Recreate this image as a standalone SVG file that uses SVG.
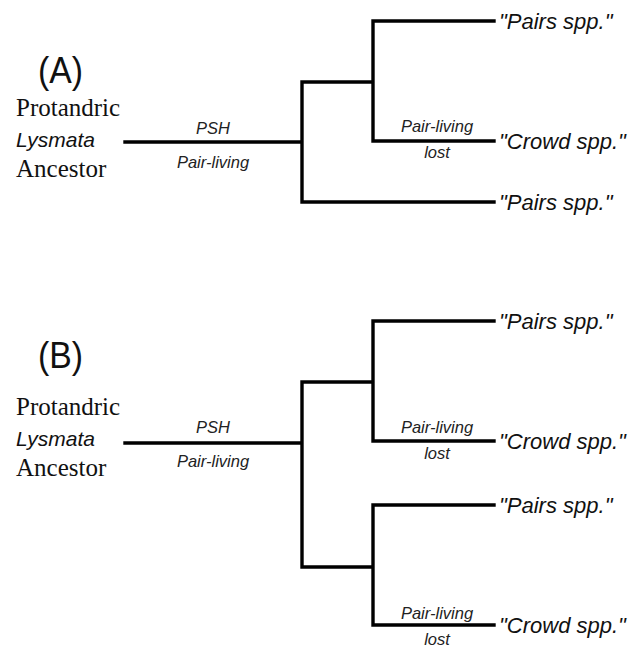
<svg xmlns="http://www.w3.org/2000/svg" width="632" height="649" viewBox="0 0 632 649">
<style>
.br{fill:none;stroke:#000;stroke-width:3.4;stroke-linecap:square}
.tip{font-family:"Liberation Sans",Arial,sans-serif;font-style:italic;font-size:22px;fill:#111}
.lbl{font-family:"Liberation Sans",Arial,sans-serif;font-style:italic;font-size:16.5px;fill:#222;text-anchor:middle}
.panel{font-family:"Liberation Sans",Arial,sans-serif;font-size:37px;fill:#111}
.ser{font-family:"Liberation Serif","Times New Roman",serif;font-size:25px;fill:#111}
.it{font-family:"Liberation Sans",Arial,sans-serif;font-style:italic;font-size:21px;fill:#111}
</style>
<rect width="632" height="649" fill="#fff"/>
<g id="connectors">
<path class="br" d="M125,142 H302 M302,82 V202 M302,82 H373 M373,21 V141 M373,21 H494 M373,141 H494 M302,202 H494"/>
<path class="br" d="M125,443 H302 M302,382 V567 M302,382 H373 M373,321 V441 M373,321 H494 M373,441 H494 M302,567 H373 M373,505 V625 M373,505 H494 M373,625 H494"/>
</g>
<g id="panelA">
<g id="labelA"><text class="panel" x="38" y="83" textLength="45" lengthAdjust="spacingAndGlyphs">(A)</text></g>
<g id="ancestorA">
<text class="ser" x="16" y="116">Protandric</text>
<text class="it" x="16" y="147">Lysmata</text>
<text class="ser" x="16" y="177">Ancestor</text>
</g>
<g id="rootA"><text class="lbl" x="213" y="134">PSH</text><text class="lbl" x="213" y="168">Pair-living</text></g>
<g id="tipA1"><text class="tip" x="499" y="29">"Pairs spp."</text></g>
<g id="tipA2"><text class="tip" x="499" y="149">"Crowd spp."</text>
<text class="lbl" x="437" y="132">Pair-living</text><text class="lbl" x="437" y="158">lost</text></g>
<g id="tipA3"><text class="tip" x="499" y="210">"Pairs spp."</text></g>
</g>
<g id="panelB">
<g id="labelB"><text class="panel" x="38" y="368" textLength="45" lengthAdjust="spacingAndGlyphs">(B)</text></g>
<g id="ancestorB">
<text class="ser" x="16" y="415">Protandric</text>
<text class="it" x="16" y="446">Lysmata</text>
<text class="ser" x="16" y="476">Ancestor</text>
</g>
<g id="rootB"><text class="lbl" x="213" y="433">PSH</text><text class="lbl" x="213" y="467">Pair-living</text></g>
<g id="tipB1"><text class="tip" x="499" y="329">"Pairs spp."</text></g>
<g id="tipB2"><text class="tip" x="499" y="449">"Crowd spp."</text>
<text class="lbl" x="437" y="433">Pair-living</text><text class="lbl" x="437" y="459">lost</text></g>
<g id="tipB3"><text class="tip" x="499" y="513">"Pairs spp."</text></g>
<g id="tipB4"><text class="tip" x="499" y="633">"Crowd spp."</text>
<text class="lbl" x="437" y="619">Pair-living</text><text class="lbl" x="437" y="645">lost</text></g>
</g>
</svg>
